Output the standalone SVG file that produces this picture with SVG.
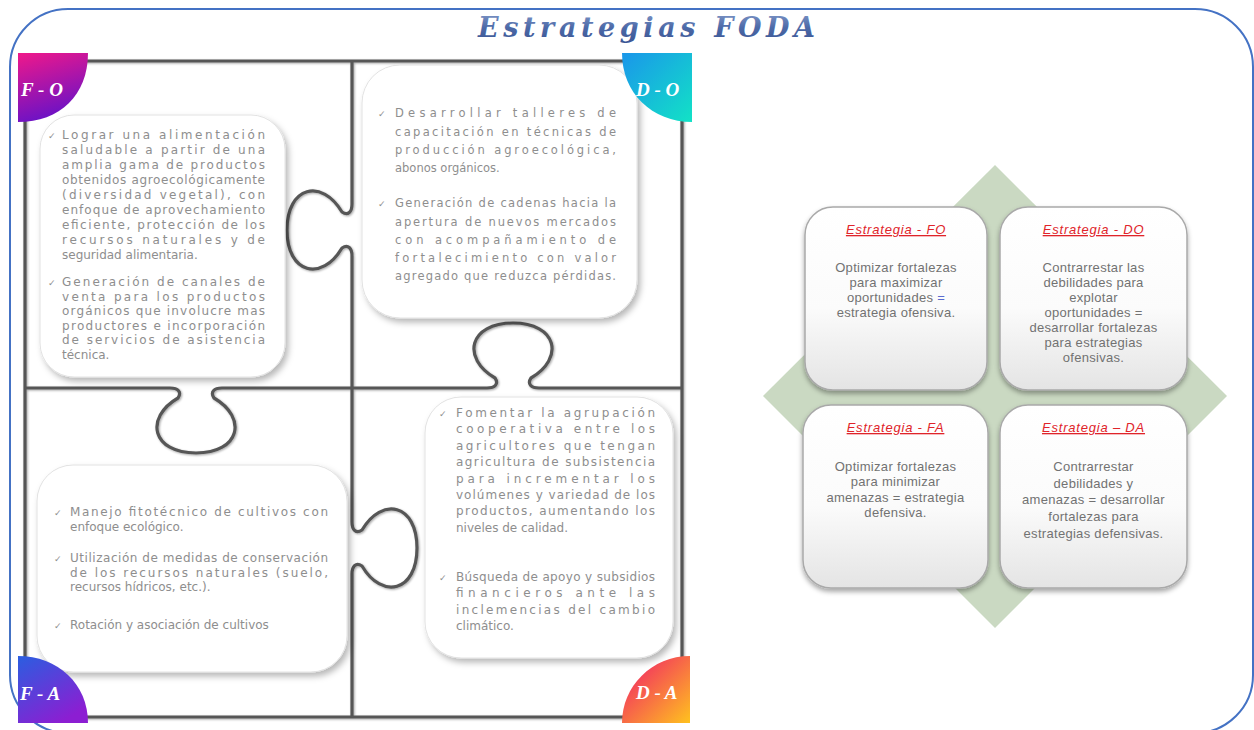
<svg xmlns="http://www.w3.org/2000/svg" width="1254" height="730" viewBox="0 0 1254 730">
<defs>
<linearGradient id="gTitle" x1="0" y1="0" x2="0" y2="1"><stop offset="0" stop-color="#7f97c8"/><stop offset="0.5" stop-color="#4d6aa8"/><stop offset="1" stop-color="#3a5594"/></linearGradient>
<linearGradient id="gFO" x1="0" y1="0" x2="0.3" y2="1"><stop offset="0" stop-color="#f0188a"/><stop offset="1" stop-color="#6a12c6"/></linearGradient>
<linearGradient id="gDO" x1="0" y1="0" x2="1" y2="1"><stop offset="0" stop-color="#1a96ea"/><stop offset="1" stop-color="#12e2c6"/></linearGradient>
<linearGradient id="gFA" x1="0" y1="0" x2="0.6" y2="1"><stop offset="0" stop-color="#2a5ee0"/><stop offset="1" stop-color="#8c1ed2"/></linearGradient>
<linearGradient id="gDA" x1="0" y1="0" x2="1" y2="1"><stop offset="0" stop-color="#f0146e"/><stop offset="1" stop-color="#ffc21e"/></linearGradient>
<linearGradient id="gBox" x1="0" y1="0" x2="0" y2="1"><stop offset="0" stop-color="#ffffff"/><stop offset="0.55" stop-color="#fbfbfb"/><stop offset="1" stop-color="#e4e4e4"/></linearGradient>
<filter id="shBox" x="-10%" y="-10%" width="130%" height="130%"><feDropShadow dx="3" dy="4" stdDeviation="3" flood-color="#000" flood-opacity="0.28"/></filter>
<filter id="shLine" x="-5%" y="-5%" width="110%" height="110%"><feDropShadow dx="1" dy="1" stdDeviation="1.2" flood-color="#000" flood-opacity="0.35"/></filter>
<filter id="shCard" x="-10%" y="-10%" width="130%" height="130%"><feDropShadow dx="0" dy="3" stdDeviation="2.5" flood-color="#000" flood-opacity="0.35"/></filter>
</defs>
<style>
.pl{fill:none;stroke:#575757;stroke-width:3.2;stroke-linejoin:round}
.tb{fill:#ffffff;stroke:#e2e2e2;stroke-width:1}
.pt{font-family:"DejaVu Sans",sans-serif;font-size:12px;fill:#8e8e8e}
.pd{font-family:"DejaVu Sans",sans-serif;font-size:11.5px;fill:#8e8e8e}
.ck{font-family:"DejaVu Sans",sans-serif;font-size:9px;fill:#8e8e8e}
.bl{font-family:"Liberation Serif",serif;font-weight:bold;font-style:italic;font-size:19px;fill:#ffffff}
.card{fill:url(#gBox);stroke:#a9a9a9;stroke-width:1.5}
.ct{font-family:"Liberation Sans",sans-serif;font-size:13px;font-style:italic;fill:#e0242a;text-decoration:underline;text-anchor:middle;letter-spacing:0.8px}
.cb{font-family:"Liberation Sans",sans-serif;font-size:13px;fill:#727272;text-anchor:middle;letter-spacing:0.3px}
</style>
<rect width="1254" height="730" fill="#ffffff"/>
<rect id="outer-frame" x="10" y="9" width="1243" height="724" rx="58" fill="none" stroke="#4472c4" stroke-width="2"/>
<g id="title"><text x="478" y="37" textLength="337" lengthAdjust="spacing" font-family="DejaVu Serif, serif" font-weight="bold" font-style="italic" font-size="27" fill="url(#gTitle)">Estrategias FODA</text></g>

<g id="connectors">
<g id="puzzle-frame" filter="url(#shLine)">
<rect class="pl" x="25" y="61" width="657" height="656"/>
<path class="pl" d="M352,61 L352,204 C352,212 348,216 342,212 C322,178 287,186 287,230 C287,274 322,282 342,248 C348,244 352,248 352,256 L352,522 C352,530 356,534 362,530 C382,496 417,504 417,548 C417,592 382,600 362,566 C356,562 352,566 352,574 L352,717"/>
<path class="pl" d="M25,388 L170,388 C178,388 182,392 178,398 C144,418 152,453 196,453 C240,453 248,418 214,398 C210,392 214,388 222,388 L487,388 C495,388 499,384 495,378 C461,358 469,323 513,323 C557,323 565,358 531,378 C527,384 531,388 539,388 L682,388"/>
</g>
</g>

<g id="node-fo">
<rect class="tb" x="40" y="115" width="245" height="262" rx="34" filter="url(#shBox)"/>
<text class="ck" x="48" y="139">✓</text>
<text class="pt" x="62" y="139" textLength="203" lengthAdjust="spacing">Lograr una alimentación</text>
<text class="pt" x="62" y="154" textLength="203" lengthAdjust="spacing">saludable a partir de una</text>
<text class="pt" x="62" y="169" textLength="203" lengthAdjust="spacing">amplia gama de productos</text>
<text class="pt" x="62" y="184" textLength="203" lengthAdjust="spacing">obtenidos agroecológicamente</text>
<text class="pt" x="62" y="199" textLength="203" lengthAdjust="spacing">(diversidad vegetal), con</text>
<text class="pt" x="62" y="214" textLength="203" lengthAdjust="spacing">enfoque de aprovechamiento</text>
<text class="pt" x="62" y="229" textLength="203" lengthAdjust="spacing">eficiente, protección de los</text>
<text class="pt" x="62" y="244" textLength="203" lengthAdjust="spacing">recursos naturales y de</text>
<text class="pt" x="62" y="259">seguridad alimentaria.</text>
<text class="ck" x="48" y="286">✓</text>
<text class="pt" x="62" y="286" textLength="203" lengthAdjust="spacing">Generación de canales de</text>
<text class="pt" x="62" y="300.5" textLength="203" lengthAdjust="spacing">venta para los productos</text>
<text class="pt" x="62" y="315" textLength="203" lengthAdjust="spacing">orgánicos que involucre mas</text>
<text class="pt" x="62" y="329.5" textLength="203" lengthAdjust="spacing">productores e incorporación</text>
<text class="pt" x="62" y="344" textLength="203" lengthAdjust="spacing">de servicios de asistencia</text>
<text class="pt" x="62" y="358.5">técnica.</text>
</g>

<g id="node-do">
<rect class="tb" x="362" y="65" width="275" height="253" rx="38" filter="url(#shBox)"/>
<text class="ck" x="378" y="117">✓</text>
<text class="pd" x="395" y="117" textLength="221" lengthAdjust="spacing">Desarrollar talleres de</text>
<text class="pd" x="395" y="135.5" textLength="221" lengthAdjust="spacing">capacitación en técnicas de</text>
<text class="pd" x="395" y="154" textLength="221" lengthAdjust="spacing">producción agroecológica,</text>
<text class="pd" x="395" y="172">abonos orgánicos.</text>
<text class="ck" x="378" y="207">✓</text>
<text class="pd" x="395" y="207" textLength="221" lengthAdjust="spacing">Generación de cadenas hacia la</text>
<text class="pd" x="395" y="225.5" textLength="221" lengthAdjust="spacing">apertura de nuevos mercados</text>
<text class="pd" x="395" y="243.5" textLength="221" lengthAdjust="spacing">con acompañamiento de</text>
<text class="pd" x="395" y="262" textLength="221" lengthAdjust="spacing">fortalecimiento con valor</text>
<text class="pd" x="395" y="280" textLength="221" lengthAdjust="spacing">agregado que reduzca pérdidas.</text>
</g>

<g id="node-fa">
<rect class="tb" x="37" y="465" width="310" height="207" rx="36" filter="url(#shBox)"/>
<text class="ck" x="54" y="516">✓</text>
<text class="pt" x="70" y="516" textLength="258" lengthAdjust="spacing">Manejo fitotécnico de cultivos con</text>
<text class="pt" x="70" y="531">enfoque ecológico.</text>
<text class="ck" x="54" y="562">✓</text>
<text class="pt" x="70" y="562" textLength="258" lengthAdjust="spacing">Utilización de medidas de conservación</text>
<text class="pt" x="70" y="576.5" textLength="258" lengthAdjust="spacing">de los recursos naturales (suelo,</text>
<text class="pt" x="70" y="591">recursos hídricos, etc.).</text>
<text class="ck" x="54" y="629">✓</text>
<text class="pt" x="70" y="629">Rotación y asociación de cultivos</text>
</g>

<g id="node-da">
<rect class="tb" x="425" y="397" width="248" height="261" rx="36" filter="url(#shBox)"/>
<text class="ck" x="439" y="417">✓</text>
<text class="pt" x="456" y="417" textLength="199" lengthAdjust="spacing">Fomentar la agrupación</text>
<text class="pt" x="456" y="433.4" textLength="199" lengthAdjust="spacing">cooperativa entre los</text>
<text class="pt" x="456" y="449.8" textLength="199" lengthAdjust="spacing">agricultores que tengan</text>
<text class="pt" x="456" y="466.2" textLength="199" lengthAdjust="spacing">agricultura de subsistencia</text>
<text class="pt" x="456" y="482.6" textLength="199" lengthAdjust="spacing">para incrementar los</text>
<text class="pt" x="456" y="499" textLength="199" lengthAdjust="spacing">volúmenes y variedad de los</text>
<text class="pt" x="456" y="515.4" textLength="199" lengthAdjust="spacing">productos, aumentando los</text>
<text class="pt" x="456" y="531.8">niveles de calidad.</text>
<text class="ck" x="439" y="581">✓</text>
<text class="pt" x="456" y="581" textLength="199" lengthAdjust="spacing">Búsqueda de apoyo y subsidios</text>
<text class="pt" x="456" y="597" textLength="199" lengthAdjust="spacing">financieros ante las</text>
<text class="pt" x="456" y="614" textLength="199" lengthAdjust="spacing">inclemencias del cambio</text>
<text class="pt" x="456" y="630">climático.</text>
</g>

<g id="badge-fo">
<path d="M18,53 H88 C88,95 60,122 18,122 Z" fill="url(#gFO)"/>
<text class="bl" x="21" y="96">F - O</text>
</g>
<g id="badge-do">
<path d="M692,53 V122 C652,122 622,93 622,53 Z" fill="url(#gDO)"/>
<text class="bl" x="636" y="96">D - O</text>
</g>
<g id="badge-fa">
<path d="M18,723 V656 C58,656 88,684 88,723 Z" fill="url(#gFA)"/>
<text class="bl" x="20" y="700">F - A</text>
</g>
<g id="badge-da">
<path d="M690,656 V723 H622 C622,686 652,656 690,656 Z" fill="url(#gDA)"/>
<text class="bl" x="636" y="699">D - A</text>
</g>

<g id="diamond"><polygon points="995,165 1227,396 995,628 763,396" fill="#cad9c2"/></g>

<g id="card-fo">
<rect class="card" x="805" y="207" width="182" height="183" rx="28" filter="url(#shCard)"/>
<text class="ct" x="896" y="234">Estrategia - FO</text>
<text class="cb" x="896" y="272">Optimizar fortalezas</text>
<text class="cb" x="896" y="287">para maximizar</text>
<text class="cb" x="896" y="302">oportunidades <tspan fill="#5a6cd0">=</tspan></text>
<text class="cb" x="896" y="317">estrategia ofensiva.</text>
</g>
<g id="card-do">
<rect class="card" x="1000" y="207" width="187" height="183" rx="28" filter="url(#shCard)"/>
<text class="ct" x="1093.5" y="234">Estrategia - DO</text>
<text class="cb" x="1093.5" y="272">Contrarrestar las</text>
<text class="cb" x="1093.5" y="287">debilidades para</text>
<text class="cb" x="1093.5" y="302">explotar</text>
<text class="cb" x="1093.5" y="317">oportunidades =</text>
<text class="cb" x="1093.5" y="332">desarrollar fortalezas</text>
<text class="cb" x="1093.5" y="347">para estrategias</text>
<text class="cb" x="1093.5" y="362">ofensivas.</text>
</g>
<g id="card-fa">
<rect class="card" x="803" y="405" width="185" height="183" rx="28" filter="url(#shCard)"/>
<text class="ct" x="895.5" y="432">Estrategia - FA</text>
<text class="cb" x="895.5" y="471">Optimizar fortalezas</text>
<text class="cb" x="895.5" y="486">para minimizar</text>
<text class="cb" x="895.5" y="502">amenazas = estrategia</text>
<text class="cb" x="895.5" y="517">defensiva.</text>
</g>
<g id="card-da">
<rect class="card" x="1000" y="405" width="187" height="183" rx="28" filter="url(#shCard)"/>
<text class="ct" x="1093.5" y="432">Estrategia – DA</text>
<text class="cb" x="1093.5" y="471">Contrarrestar</text>
<text class="cb" x="1093.5" y="488">debilidades y</text>
<text class="cb" x="1093.5" y="504">amenazas = desarrollar</text>
<text class="cb" x="1093.5" y="521">fortalezas para</text>
<text class="cb" x="1093.5" y="538">estrategias defensivas.</text>
</g>
</svg>
